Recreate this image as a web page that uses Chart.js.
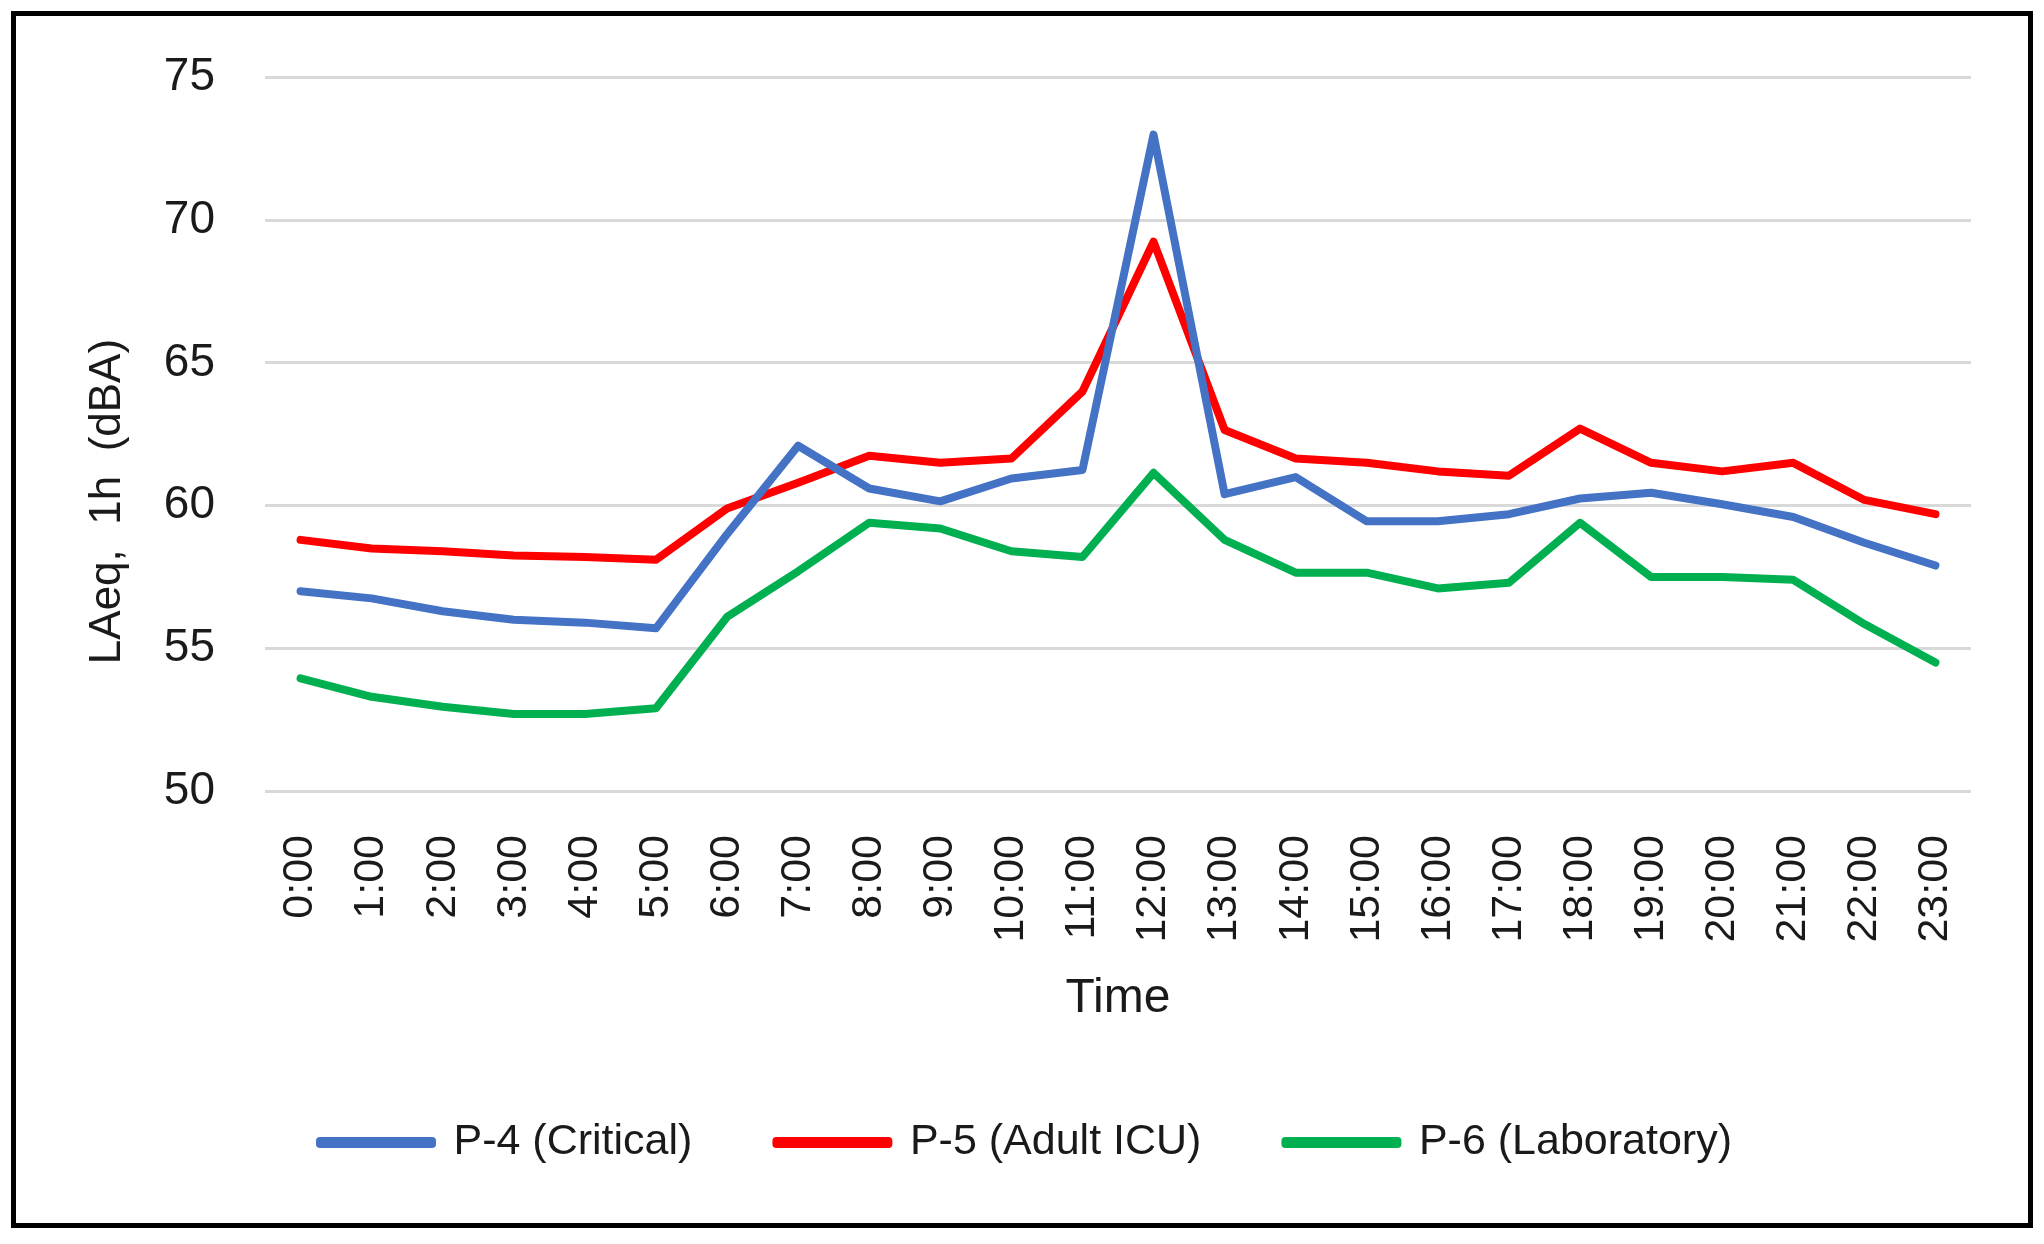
<!DOCTYPE html>
<html lang="en">
<head>
  <meta charset="UTF-8" />
  <title>LAeq by hour</title>
  <script src="https://cdn.jsdelivr.net/npm/chart.js"></script>
  <style>
    body {
      margin: 0;
      background: white;
      font-family: "Liberation Sans", sans-serif;
    }
    .frame {
      position: absolute;
      left: 11px;
      top: 11px;
      width: 2022px;
      height: 1217px;
      box-sizing: border-box;
      border: 5px solid black;
      pointer-events: none;
    }
    .chart-box {
      position: absolute;
      left: 0;
      top: 0;
      width: 2044px;
      height: 1244px;
    }
  </style>
</head>
<body>
  <div class="chart-box"><canvas id="noiseChart"></canvas></div>
  <div class="frame"></div>

  <script>
    const hours = ['0:00', '1:00', '2:00', '3:00', '4:00', '5:00', '6:00', '7:00', '8:00', '9:00', '10:00', '11:00',
                   '12:00', '13:00', '14:00', '15:00', '16:00', '17:00', '18:00', '19:00', '20:00', '21:00', '22:00', '23:00'];
    const p4Critical = [57.0, 56.75, 56.3, 56.0, 55.9, 55.7, 59.0, 62.1, 60.6, 60.15, 60.95, 61.25,
                        73.0, 60.4, 61.0, 59.45, 59.45, 59.7, 60.25, 60.45, 60.05, 59.6, 58.7, 57.9];
    const p5AdultIcu = [58.8, 58.5, 58.4, 58.25, 58.2, 58.1, 59.9, 60.8, 61.75, 61.5, 61.65, 64.0,
                        69.25, 62.65, 61.65, 61.5, 61.2, 61.05, 62.7, 61.5, 61.2, 61.5, 60.2, 59.7];
    const p6Laboratory = [53.95, 53.3, 52.95, 52.7, 52.7, 52.9, 56.1, 57.7, 59.4, 59.2, 58.4, 58.2,
                          61.15, 58.8, 57.65, 57.65, 57.1, 57.3, 59.4, 57.5, 57.5, 57.4, 55.85, 54.5];
    const yMin = 50, yMax = 75, yStep = 5;

    const textColor = '#1a1a1a';
    const font = 'Liberation Sans';

    // keep the legend band a fixed height so the plot lands where the original does
    const legendHeight = {
      id: 'legendHeight',
      beforeUpdate(chart) {
        const lg = chart.legend;
        if (lg && !lg._patched) {
          const fit = lg.fit;
          lg.fit = function () { fit.call(this); this.height = 207; };
          lg._patched = true;
        }
      }
    };

    function line(label, data, color) {
      return {
        label: label,
        data: data,
        borderColor: color,
        backgroundColor: color,
        borderWidth: 8,
        pointRadius: 0,
        tension: 0,
        fill: false,
        borderJoinStyle: 'round',
        borderCapStyle: 'round'
      };
    }

    // trailing spaces push the rotated title a little below the plot's middle, as in the original
    const yTitle = 'LAeq,  1h  (dBA)' + '\u00a0'.repeat(11);

    new Chart(document.getElementById('noiseChart'), {
      type: 'line',
      data: {
        labels: hours,
        datasets: [
          line('P-4 (Critical)', p4Critical, '#4472c4'),
          line('P-5 (Adult ICU)', p5AdultIcu, '#ff0000'),
          line('P-6 (Laboratory)', p6Laboratory, '#00b050')
        ]
      },
      options: {
        responsive: true,
        maintainAspectRatio: false,
        devicePixelRatio: 1,
        animation: false,
        layout: { padding: { left: 81, right: 73, top: 74, bottom: 0 } },
        plugins: {
          tooltip: { enabled: false },
          legend: {
            position: 'bottom',
            labels: {
              color: textColor,
              font: { family: font, size: 43 },
              boxWidth: 112,
              boxHeight: 3,
              padding: 84
            }
          }
        },
        scales: {
          x: {
            offset: true,
            grid: { display: false },
            border: { display: false },
            ticks: {
              color: textColor,
              font: { family: font, size: 43 },
              minRotation: 90,
              maxRotation: 90,
              autoSkip: false,
              padding: 36
            },
            title: {
              display: true,
              text: 'Time',
              color: textColor,
              font: { family: font, size: 48 },
              padding: { top: 0, bottom: 9 }
            },
            afterFit(scale) { scale.height = 246; }
          },
          y: {
            min: yMin,
            max: yMax,
            grid: { color: '#d9d9d9', lineWidth: 3, drawTicks: false },
            border: { display: false },
            ticks: {
              stepSize: yStep,
              color: textColor,
              font: { family: font, size: 46 },
              padding: 50
            },
            title: {
              display: true,
              text: yTitle,
              color: textColor,
              font: { family: font, size: 44 },
              padding: 0
            },
            afterFit(scale) { scale.width = 184; }
          }
        }
      },
      plugins: [legendHeight]
    });
  </script>
</body>
</html>
